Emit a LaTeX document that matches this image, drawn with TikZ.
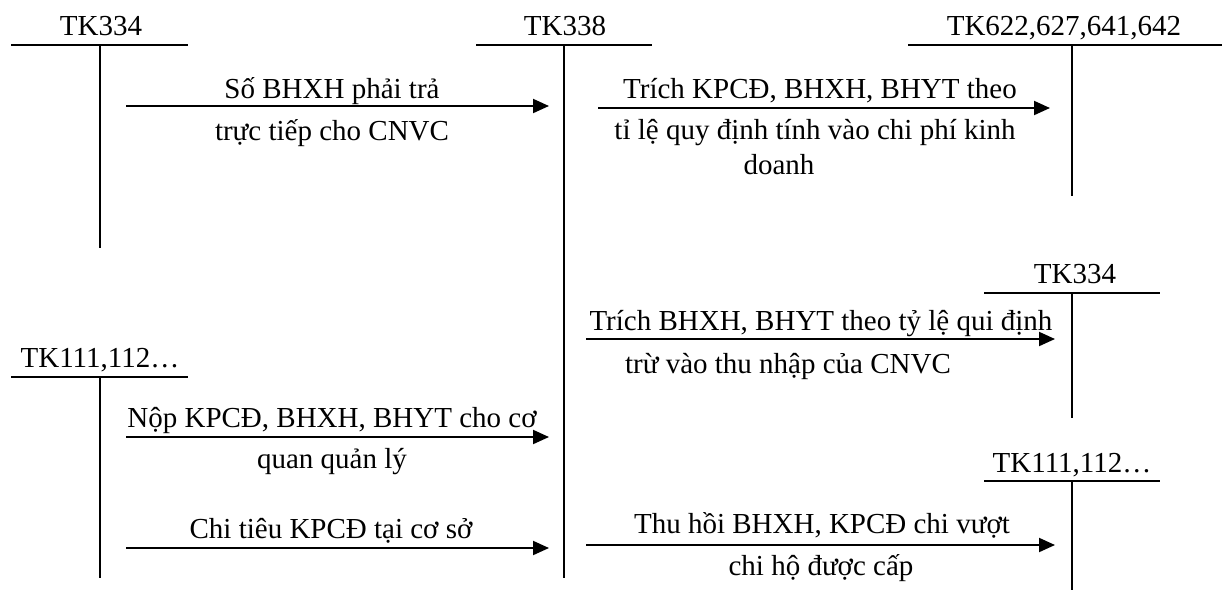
\documentclass[tikz,border=0pt]{standalone}
\usepackage{fontspec}
\setmainfont{Liberation Serif}
\usetikzlibrary{arrows.meta}

\tikzset{
  x=1pt, y=-1pt,
  acct/.style={line width=2pt, black},
  flow/.style={line width=2pt, black, -{Triangle[length=16pt,width=14pt]}},
  txt/.style={anchor=base, inner sep=0pt, font=\fontsize{29}{35}\selectfont},
}

\begin{document}
\begin{tikzpicture}
\useasboundingbox (0,0) rectangle (1226,590);

% ---- T-accounts: title, horizontal rule, vertical stem ----
% TK334 (top left)
\node[txt] (a334) at (101,35) {TK334};
\coordinate (a334l) at (11,45);  \coordinate (a334r) at (188,45);
\coordinate (a334t) at (100,45); \coordinate (a334b) at (100,248);
\draw[acct] (a334l) -- (a334r);
\draw[acct] (a334t) -- (a334b);

% TK338 (centre)
\node[txt] (a338) at (565,35) {TK338};
\coordinate (a338l) at (476,45); \coordinate (a338r) at (652,45);
\coordinate (a338t) at (564,45); \coordinate (a338b) at (564,578);
\draw[acct] (a338l) -- (a338r);
\draw[acct] (a338t) -- (a338b);

% TK622,627,641,642 (top right)
\node[txt] (a622) at (1064,35) {TK622,627,641,642};
\coordinate (a622l) at (908,45);  \coordinate (a622r) at (1222,45);
\coordinate (a622t) at (1072,45); \coordinate (a622b) at (1072,196);
\draw[acct] (a622l) -- (a622r);
\draw[acct] (a622t) -- (a622b);

% TK334 (middle right)
\node[txt] (b334) at (1075,283) {TK334};
\coordinate (b334l) at (984,293);  \coordinate (b334r) at (1160,293);
\coordinate (b334t) at (1072,293); \coordinate (b334b) at (1072,418);
\draw[acct] (b334l) -- (b334r);
\draw[acct] (b334t) -- (b334b);

% TK111,112... (bottom left)
\node[txt] (a111) at (100,367) {TK111,112\dots};
\coordinate (a111l) at (11,377);  \coordinate (a111r) at (188,377);
\coordinate (a111t) at (100,377); \coordinate (a111b) at (100,578);
\draw[acct] (a111l) -- (a111r);
\draw[acct] (a111t) -- (a111b);

% TK111,112... (bottom right)
\node[txt] (b111) at (1072,472) {TK111,112\dots};
\coordinate (b111l) at (984,481);  \coordinate (b111r) at (1160,481);
\coordinate (b111t) at (1072,481); \coordinate (b111b) at (1072,590);
\draw[acct] (b111l) -- (b111r);
\draw[acct] (b111t) -- (b111b);

% ---- Flows ----
% TK334 -> TK338
\coordinate (f1s) at (126,106); \coordinate (f1e) at (549,106);
\draw[flow] (f1s) -- (f1e);
\node[txt] (f1a) at (332,98)  {Số BHXH phải trả};
\node[txt] (f1b) at (332,140) {trực tiếp cho CNVC};

% TK338 -> TK622,627,641,642
\coordinate (f2s) at (598,108); \coordinate (f2e) at (1050,108);
\draw[flow] (f2s) -- (f2e);
\node[txt] (f2a) at (820,98)  {Trích KPCĐ, BHXH, BHYT theo};
\node[txt] (f2b) at (815,139) {tỉ lệ quy định tính vào chi phí kinh};
\node[txt] (f2c) at (779,174) {doanh};

% TK338 -> TK334
\coordinate (f3s) at (586,339); \coordinate (f3e) at (1055,339);
\draw[flow] (f3s) -- (f3e);
\node[txt] (f3a) at (821,330) {Trích BHXH, BHYT theo tỷ lệ qui định};
\node[txt] (f3b) at (788,373) {trừ vào thu nhập của CNVC};

% TK111,112... -> TK338
\coordinate (f4s) at (126,437); \coordinate (f4e) at (549,437);
\draw[flow] (f4s) -- (f4e);
\node[txt] (f4a) at (332,427) {Nộp KPCĐ, BHXH, BHYT cho cơ};
\node[txt] (f4b) at (332,468) {quan quản lý};

\coordinate (f5s) at (126,548); \coordinate (f5e) at (549,548);
\draw[flow] (f5s) -- (f5e);
\node[txt] (f5a) at (331,538) {Chi tiêu KPCĐ tại cơ sở};

% TK338 -> TK111,112...
\coordinate (f6s) at (586,545); \coordinate (f6e) at (1055,545);
\draw[flow] (f6s) -- (f6e);
\node[txt] (f6a) at (822,533) {Thu hồi BHXH, KPCĐ chi vượt};
\node[txt] (f6b) at (821,575) {chi hộ được cấp};
\end{tikzpicture}
\end{document}
